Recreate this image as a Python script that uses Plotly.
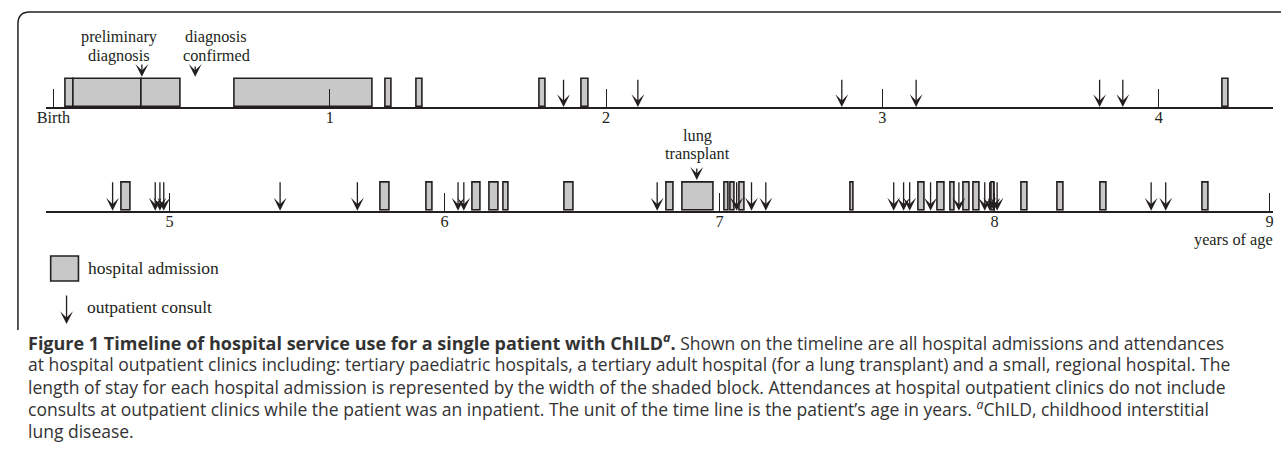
import plotly.graph_objects as go

W, H = 1282, 470

# ---------------- data (years of age) ----------------
# Row 1: birth to ~4.4 years
adm1_start = [0.046, 0.072, 0.320, 0.655, 1.201, 1.314, 1.758, 1.913, 4.232]
adm1_end   = [0.072, 0.320, 0.459, 1.156, 1.225, 1.335, 1.781, 1.936, 4.252]
opd1 = [1.846, 2.115, 2.853, 3.122, 3.786, 3.870]
ticks1 = [0, 1, 2, 3, 4]
ticklabels1 = ["Birth", "1", "2", "3", "4"]

# Row 2: ~4.5 to 9 years
adm2_start = [4.825, 5.767, 5.935, 6.104, 6.163, 6.214, 6.438, 6.806, 6.867,
              7.017, 7.040, 7.074, 7.475, 7.725, 7.793, 7.839, 7.889, 7.925,
              7.988, 8.097, 8.231, 8.386, 8.755]
adm2_end   = [4.859, 5.799, 5.957, 6.130, 6.196, 6.232, 6.470, 6.832, 6.978,
              7.032, 7.056, 7.091, 7.488, 7.747, 7.819, 7.855, 7.911, 7.946,
              8.002, 8.119, 8.252, 8.409, 8.777]
opd2 = [4.793, 4.948, 4.965, 4.979, 5.402, 5.683, 6.049, 6.070, 6.773,
        7.062, 7.116, 7.168, 7.633, 7.669, 7.691, 7.767, 7.870, 7.964,
        7.982, 7.997, 8.009, 8.569, 8.622]
ticks2 = [5, 6, 7, 8, 9]
ticklabels2 = ["5", "6", "7", "8", "9"]

prelim_dx = 0.320
confirmed_dx = 0.513
lung_tx = 6.917

BOLD_SIZE = 18
caption_lines = [
    f"<b><span style='font-size:{BOLD_SIZE}px'>Figure 1 Timeline of hospital service use for a single patient with ChILD<sup><i>a</i></sup>.</span></b> Shown on the timeline are all hospital admissions and attendances",
    "at hospital outpatient clinics including: tertiary paediatric hospitals, a tertiary adult hospital (for a lung transplant) and a small, regional hospital. The",
    "length of stay for each hospital admission is represented by the width of the shaded block. Attendances at hospital outpatient clinics do not include",
    "consults at outpatient clinics while the patient was an inpatient. The unit of the time line is the patient\u2019s age in years. <sup><i>a</i></sup>ChILD, childhood interstitial",
    "lung disease.",
]

# ---------------- style ----------------
INK = "#231f20"
FILL = "#c8c8c8"
SERIF = "Liberation Serif"
SANS = "Open Sans"


def px(x):
    return x / W


def py(y):
    return 1 - y / H


fig = go.Figure()

for (s_list, e_list, xa, ya) in [(adm1_start, adm1_end, "x", "y"),
                                  (adm2_start, adm2_end, "x2", "y2")]:
    fig.add_trace(go.Bar(
        x=[(s + e) / 2 for s, e in zip(s_list, e_list)],
        y=[1] * len(s_list),
        width=[e - s for s, e in zip(s_list, e_list)],
        base=0,
        marker=dict(color=FILL, line=dict(color=INK, width=1.6)),
        xaxis=xa, yaxis=ya, showlegend=False, hoverinfo="skip",
    ))

annotations = []


def arrow(x, xr, yr, tip, tail, width=1.3, size=1.65):
    annotations.append(dict(
        x=x, y=tip, ax=x, ay=tail, xref=xr, yref=yr, axref=xr, ayref=yr,
        text="", showarrow=True, arrowhead=3, arrowsize=size,
        arrowwidth=width, arrowcolor=INK, standoff=0, startstandoff=0,
    ))


for t in opd1:
    arrow(t, "x", "y", 0.0, 1.03)
for t in opd2:
    arrow(t, "x2", "y2", 0.0, 1.07)

arrow(prelim_dx, "x", "y", 1.08, 1.57)
arrow(confirmed_dx, "x", "y", 1.08, 1.50)
arrow(lung_tx, "x2", "y2", 1.10, 1.56)

text_font = dict(family=SERIF, size=16.3, color=INK)
legend_font = dict(family=SERIF, size=17.5, color=INK)


def label(x, y, text, xanchor="center", font=None):
    annotations.append(dict(
        x=px(x), y=py(y), xref="paper", yref="paper", text=text,
        showarrow=False, xanchor=xanchor, yanchor="middle",
        font=font or text_font, borderpad=0,
    ))


label(111, 37, "preliminary")
label(111, 55, "diagnosis")
label(209, 37, "diagnosis")
label(209, 55, "confirmed")
label(694, 135, "lung")
label(694, 153, "transplant")
label(1275, 239, "years of age", xanchor="right")

# legend
label(79, 268, "hospital admission", xanchor="left", font=legend_font)
label(78, 307, "outpatient consult", xanchor="left", font=legend_font)
annotations.append(dict(
    x=px(58), y=py(324), xref="paper", yref="paper", ax=0, ay=-30,
    text="", showarrow=True, arrowhead=3, arrowsize=1.65, arrowwidth=1.3,
    arrowcolor=INK, standoff=0,
))

# caption
cap_font = dict(family=SANS, size=17.5, color="#333333")
for i, line in enumerate(caption_lines):
    annotations.append(dict(
        x=px(18), y=py(342 + i * 22.3), xref="paper", yref="paper",
        text=line, showarrow=False, xanchor="left", yanchor="middle",
        font=cap_font, borderpad=0,
    ))

shapes = [
    # legend swatch
    dict(type="rect", xref="paper", yref="paper",
         x0=px(42), x1=px(70), y0=py(281), y1=py(256),
         fillcolor=FILL, line=dict(color=INK, width=1.6)),
    # figure frame (top-left rounded corner)
    dict(type="path", xref="paper", yref="paper",
         path=(f"M {px(9)},{py(330)} L {px(9)},{py(24)} "
               f"Q {px(9)},{py(12)} {px(21)},{py(12)} L {px(1282)},{py(12)}"),
         line=dict(color=INK, width=1.5)),
]

axis_common = dict(
    showline=True, linecolor=INK, linewidth=1.6,
    ticks="inside", ticklen=18, tickwidth=1.2, tickcolor=INK,
    showgrid=False, zeroline=False, fixedrange=True,
    ticklabelstandoff=-5,
    tickfont=dict(family=SERIF, size=16.3, color=INK),
)
yaxis_common = dict(range=[0, 2], visible=False, fixedrange=True)

fig.update_layout(
    width=W, height=H,
    margin=dict(l=0, r=0, t=0, b=0),
    paper_bgcolor="white", plot_bgcolor="rgba(0,0,0,0)",
    barmode="overlay", bargap=0, hovermode=False,
    xaxis=dict(domain=[px(37), px(1274)], range=[-0.028, 4.4137],
               tickvals=ticks1, ticktext=ticklabels1, anchor="y",
               **axis_common),
    yaxis=dict(domain=[py(107), py(51)], anchor="x", **yaxis_common),
    xaxis2=dict(domain=[px(37), px(1274)], range=[4.5498, 9.0123],
                tickvals=ticks2, ticktext=ticklabels2, anchor="y2",
                **axis_common),
    yaxis2=dict(domain=[py(210.7), py(154.7)], anchor="x2", **yaxis_common),
    annotations=annotations,
    shapes=shapes,
)

# Remove the default 8px page margin so the figure fills the window exactly.
fig.write_html(
    "out.html",
    config={"displayModeBar": False},
    post_script="document.body.style.margin='0';document.body.style.overflow='hidden';",
)
